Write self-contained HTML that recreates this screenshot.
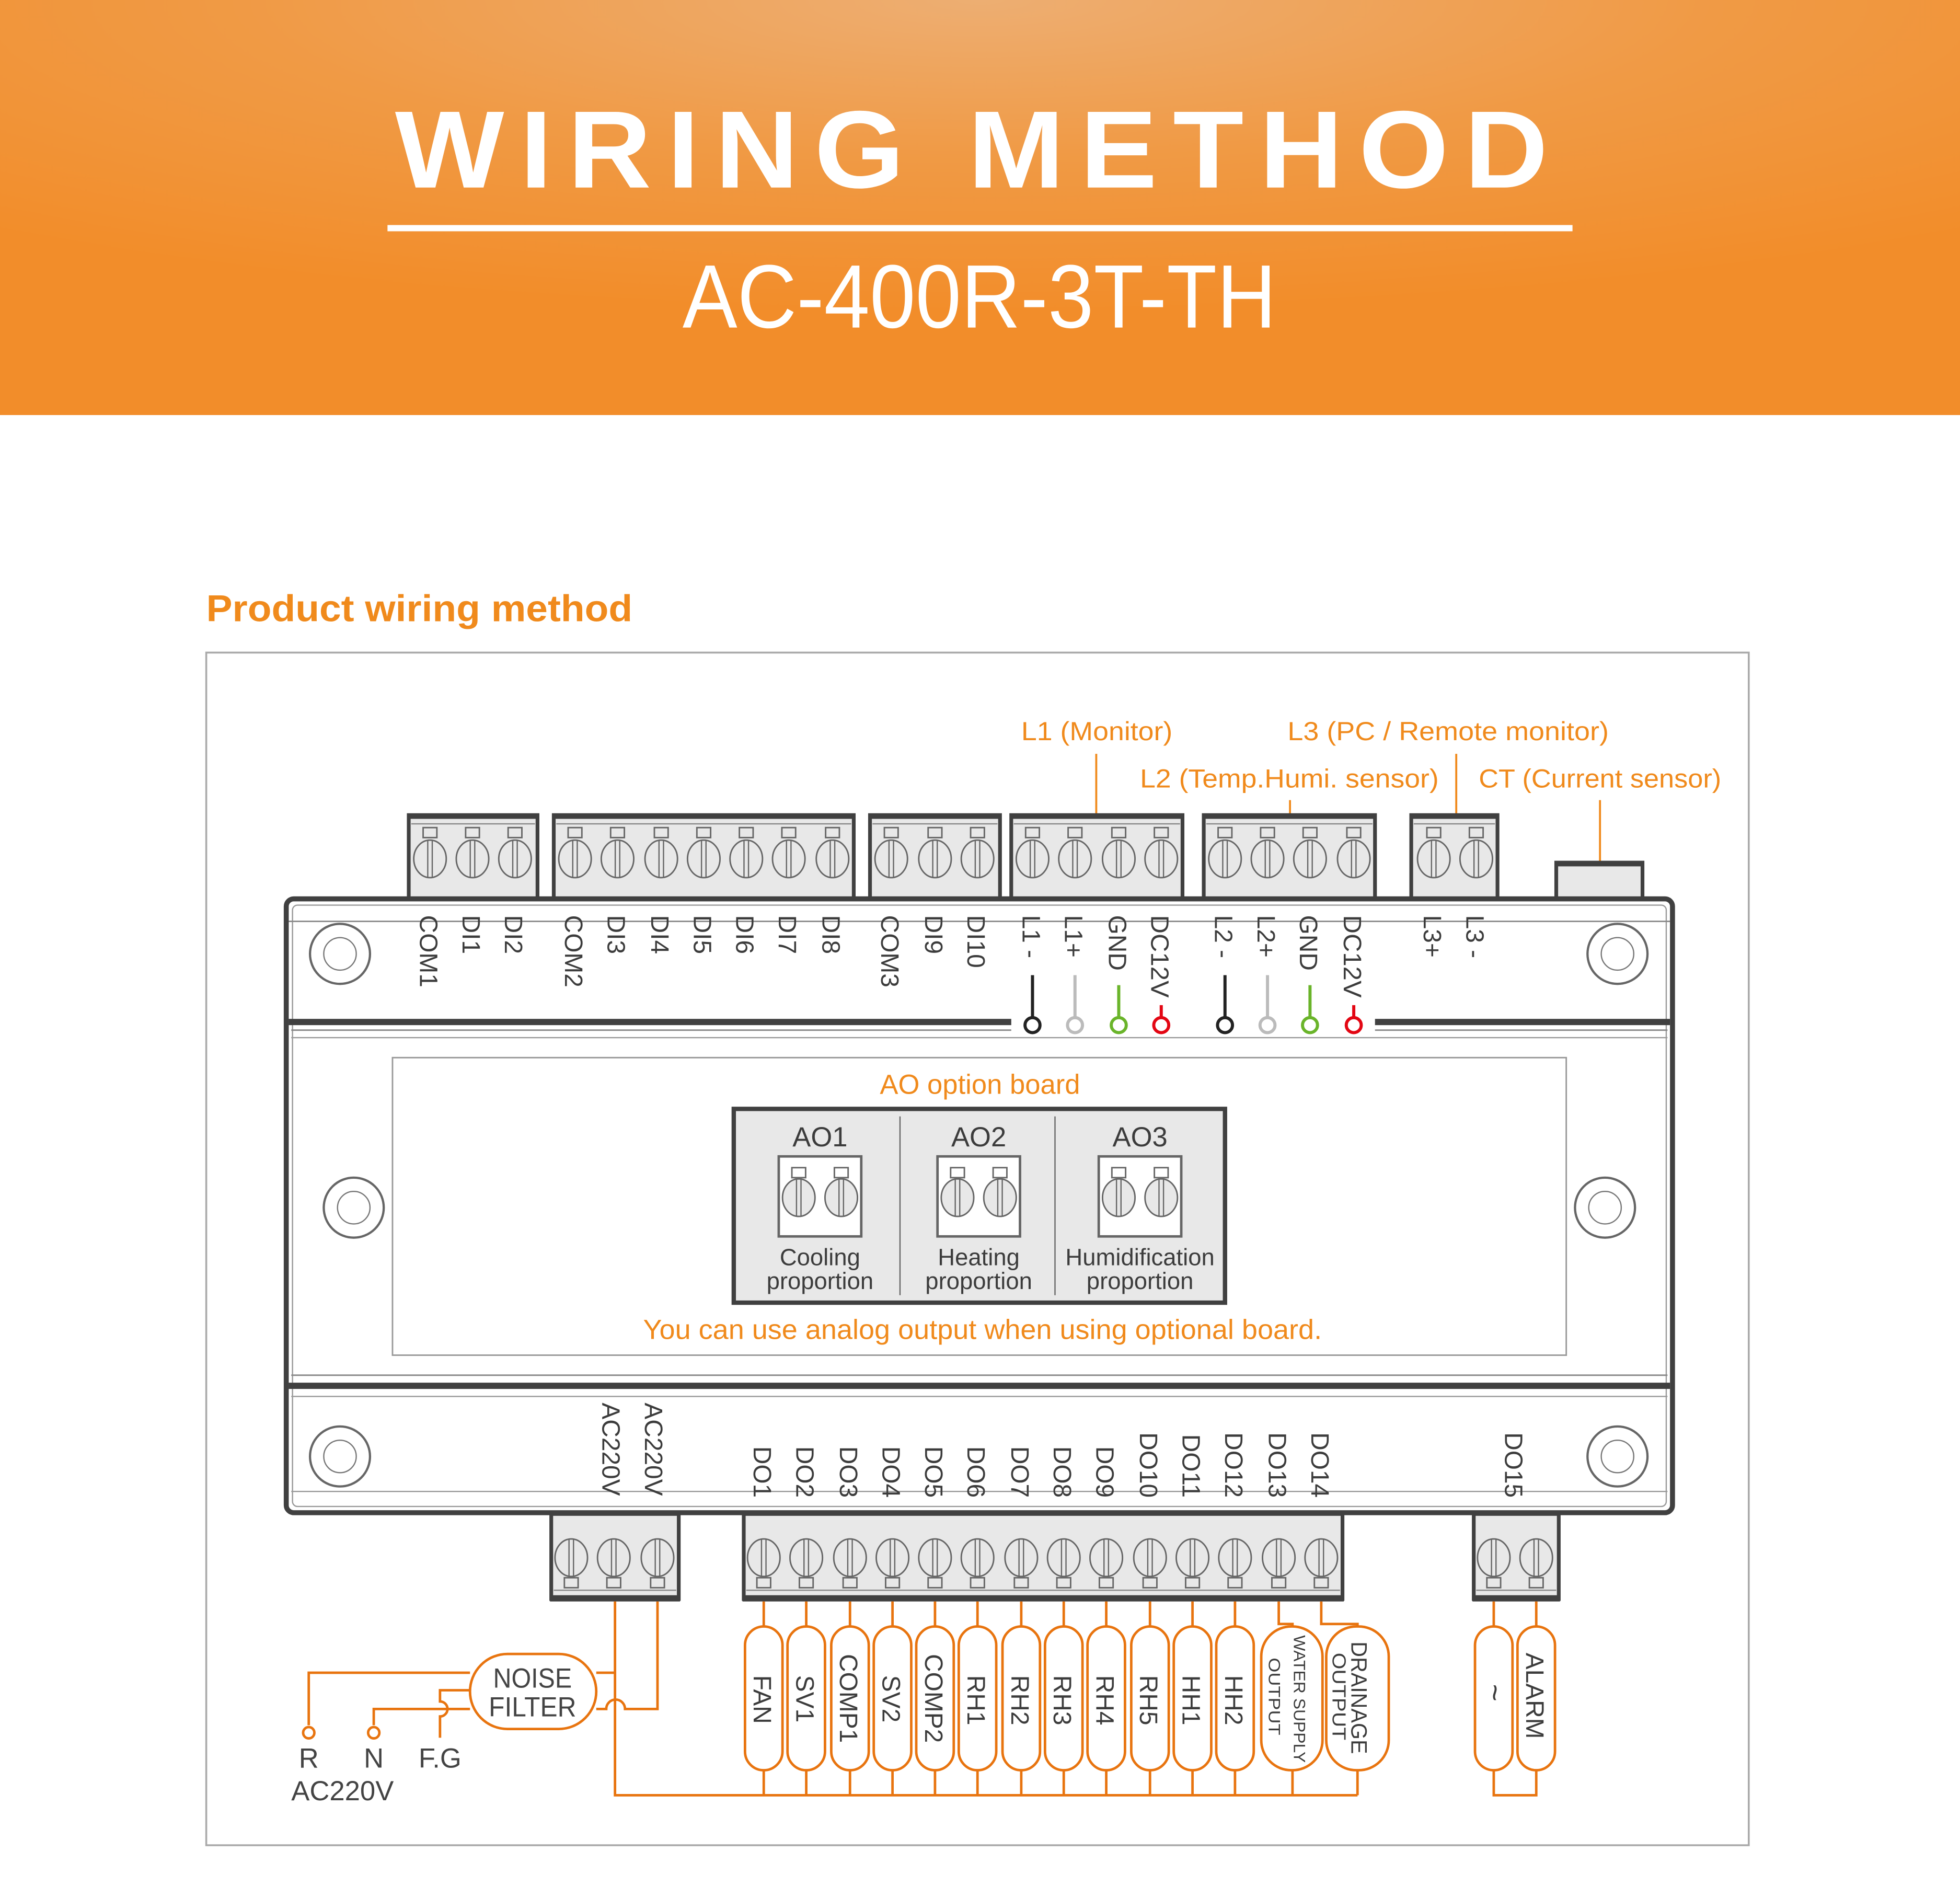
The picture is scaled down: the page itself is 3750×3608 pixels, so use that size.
<!DOCTYPE html>
<html><head><meta charset="utf-8"><style>
html,body{margin:0;padding:0;background:#fff}
svg{display:block}
.t{font-family:"Liberation Sans",sans-serif}
.o{fill:#f08a1c}
.d{fill:#3c3c3c}
.w{fill:none;stroke:#e8740f;stroke-width:2}
</style></head><body>
<svg width="3750" height="3608" viewBox="0 0 1568 1508.6" preserveAspectRatio="none" xmlns="http://www.w3.org/2000/svg">
<defs>
<radialGradient id="hg" cx="0.5" cy="0" r="0.75">
<stop offset="0" stop-color="#edae72"/><stop offset="0.5" stop-color="#f09a45"/><stop offset="1" stop-color="#f28d2a"/>
</radialGradient>
<g id="s"><ellipse cx="0" cy="0" rx="13" ry="15" fill="#e8e8e8" stroke="#666" stroke-width="1.2"/><line x1="-1.8" y1="-15" x2="-1.8" y2="15" stroke="#666" stroke-width="1"/><line x1="1.8" y1="-15" x2="1.8" y2="15" stroke="#666" stroke-width="1"/></g>
<g id="q"><rect x="-5.5" y="-4" width="11" height="8" fill="none" stroke="#666" stroke-width="1.2"/></g>
<g id="h"><circle cx="0" cy="0" r="24" fill="#fff" stroke="#666" stroke-width="1.8"/><circle cx="0" cy="0" r="13" fill="none" stroke="#777" stroke-width="1"/></g>
</defs>
<rect x="0" y="0" width="1568" height="332" fill="url(#hg)"/>
<text class="t" x="316" y="150" font-size="88" font-weight="bold" fill="#fff" textLength="935" lengthAdjust="spacingAndGlyphs" letter-spacing="12">WIRING METHOD</text>
<rect x="310" y="180" width="948" height="5" fill="#fff"/>
<text class="t" x="546" y="262" font-size="72" fill="#fff" textLength="475" lengthAdjust="spacingAndGlyphs">AC-400R-3T-TH</text>

<text class="t o" x="165" y="497" font-size="30" font-weight="bold" textLength="341" lengthAdjust="spacingAndGlyphs">Product wiring method</text>
<rect x="165" y="522" width="1234" height="954" fill="none" stroke="#aaa" stroke-width="1.5"/>

<g class="t o" font-size="21">
<text x="817" y="592" textLength="121" lengthAdjust="spacingAndGlyphs">L1 (Monitor)</text>
<text x="1030" y="592" textLength="257" lengthAdjust="spacingAndGlyphs">L3 (PC / Remote monitor)</text>
<text x="912" y="630" textLength="239" lengthAdjust="spacingAndGlyphs">L2 (Temp.Humi. sensor)</text>
<text x="1183" y="630" textLength="194" lengthAdjust="spacingAndGlyphs">CT (Current sensor)</text>
</g>
<g stroke="#f08a1c" stroke-width="1.6">
<line x1="877" y1="603" x2="877" y2="652"/><line x1="1165" y1="603" x2="1165" y2="652"/>
<line x1="1032" y1="640" x2="1032" y2="652"/><line x1="1280" y1="640" x2="1280" y2="690"/>
</g>

<g fill="#e8e8e8" stroke="#404040" stroke-width="3">
<rect x="327" y="652" width="103" height="68"/>
<rect x="443" y="652" width="240" height="68"/>
<rect x="696" y="652" width="104" height="68"/>
<rect x="809" y="652" width="137" height="68"/>
<rect x="963" y="652" width="137" height="68"/>
<rect x="1129" y="652" width="69" height="68"/>
<rect x="1245" y="690" width="69" height="30"/>
</g>
<g fill="#404040">
<rect x="327" y="651" width="103" height="4"/><rect x="443" y="651" width="240" height="4"/><rect x="696" y="651" width="104" height="4"/>
<rect x="809" y="651" width="137" height="4"/><rect x="963" y="651" width="137" height="4"/><rect x="1129" y="651" width="69" height="4"/><rect x="1245" y="689" width="69" height="4"/>
</g>
<g stroke="#888" stroke-width="1">
<line x1="329" y1="659" x2="428" y2="659"/><line x1="445" y1="659" x2="681" y2="659"/><line x1="698" y1="659" x2="798" y2="659"/>
<line x1="811" y1="659" x2="944" y2="659"/><line x1="965" y1="659" x2="1098" y2="659"/><line x1="1131" y1="659" x2="1196" y2="659"/>
</g>
<g>
<use href="#q" x="344" y="666"/><use href="#q" x="378" y="666"/><use href="#q" x="412" y="666"/>
<use href="#q" x="460" y="666"/><use href="#q" x="494" y="666"/><use href="#q" x="529" y="666"/><use href="#q" x="563" y="666"/><use href="#q" x="597" y="666"/><use href="#q" x="631" y="666"/><use href="#q" x="666" y="666"/>
<use href="#q" x="713" y="666"/><use href="#q" x="748" y="666"/><use href="#q" x="782" y="666"/>
<use href="#q" x="826" y="666"/><use href="#q" x="860" y="666"/><use href="#q" x="895" y="666"/><use href="#q" x="929" y="666"/>
<use href="#q" x="980" y="666"/><use href="#q" x="1014" y="666"/><use href="#q" x="1048" y="666"/><use href="#q" x="1083" y="666"/>
<use href="#q" x="1147" y="666"/><use href="#q" x="1181" y="666"/>
<use href="#s" x="344" y="687"/><use href="#s" x="378" y="687"/><use href="#s" x="412" y="687"/>
<use href="#s" x="460" y="687"/><use href="#s" x="494" y="687"/><use href="#s" x="529" y="687"/><use href="#s" x="563" y="687"/><use href="#s" x="597" y="687"/><use href="#s" x="631" y="687"/><use href="#s" x="666" y="687"/>
<use href="#s" x="713" y="687"/><use href="#s" x="748" y="687"/><use href="#s" x="782" y="687"/>
<use href="#s" x="826" y="687"/><use href="#s" x="860" y="687"/><use href="#s" x="895" y="687"/><use href="#s" x="929" y="687"/>
<use href="#s" x="980" y="687"/><use href="#s" x="1014" y="687"/><use href="#s" x="1048" y="687"/><use href="#s" x="1083" y="687"/>
<use href="#s" x="1147" y="687"/><use href="#s" x="1181" y="687"/>
</g>

<rect x="229" y="719" width="1109" height="491" rx="6" fill="#fff" stroke="#404040" stroke-width="4"/>
<rect x="234" y="724" width="1099" height="481" rx="4" fill="none" stroke="#999" stroke-width="1"/>
<line x1="231" y1="737" x2="1336" y2="737" stroke="#888" stroke-width="1.2"/>
<rect x="231" y="815" width="578" height="5" fill="#404040"/>
<rect x="1100" y="815" width="236" height="5" fill="#404040"/>
<line x1="233" y1="824" x2="809" y2="824" stroke="#888" stroke-width="1.2"/>
<line x1="1100" y1="824" x2="1334" y2="824" stroke="#888" stroke-width="1.2"/>
<line x1="233" y1="830" x2="1334" y2="830" stroke="#999" stroke-width="1"/>
<rect x="231" y="1106" width="1105" height="5" fill="#404040"/>
<line x1="233" y1="1100" x2="1334" y2="1100" stroke="#888" stroke-width="1.2"/>
<line x1="233" y1="1117" x2="1334" y2="1117" stroke="#999" stroke-width="1"/>
<line x1="233" y1="1193" x2="1334" y2="1193" stroke="#999" stroke-width="1"/>

<use href="#h" x="272" y="763"/><use href="#h" x="1294" y="763"/>
<use href="#h" x="283" y="966"/><use href="#h" x="1284" y="966"/>
<use href="#h" x="272" y="1165"/><use href="#h" x="1294" y="1165"/>

<g class="t d" font-size="20">
<text transform="translate(336,732) rotate(90)">COM1</text>
<text transform="translate(370,732) rotate(90)">DI1</text>
<text transform="translate(404,732) rotate(90)">DI2</text>
<text transform="translate(452,732) rotate(90)">COM2</text>
<text transform="translate(486,732) rotate(90)">DI3</text>
<text transform="translate(521,732) rotate(90)">DI4</text>
<text transform="translate(555,732) rotate(90)">DI5</text>
<text transform="translate(589,732) rotate(90)">DI6</text>
<text transform="translate(623,732) rotate(90)">DI7</text>
<text transform="translate(658,732) rotate(90)">DI8</text>
<text transform="translate(705,732) rotate(90)">COM3</text>
<text transform="translate(740,732) rotate(90)">DI9</text>
<text transform="translate(774,732) rotate(90)">DI10</text>
<text transform="translate(818,732) rotate(90)">L1 -</text>
<text transform="translate(852,732) rotate(90)">L1+</text>
<text transform="translate(887,732) rotate(90)">GND</text>
<text transform="translate(921,732) rotate(90)" textLength="66" lengthAdjust="spacingAndGlyphs">DC12V</text>
<text transform="translate(972,732) rotate(90)">L2 -</text>
<text transform="translate(1006,732) rotate(90)">L2+</text>
<text transform="translate(1040,732) rotate(90)">GND</text>
<text transform="translate(1075,732) rotate(90)" textLength="66" lengthAdjust="spacingAndGlyphs">DC12V</text>
<text transform="translate(1139,732) rotate(90)">L3+</text>
<text transform="translate(1173,732) rotate(90)">L3 -</text>
</g>
<g stroke-width="2.5" fill="#fff">
<line x1="826" y1="780" x2="826" y2="813" stroke="#222"/><circle cx="826" cy="820" r="6" stroke="#222"/>
<line x1="860" y1="780" x2="860" y2="813" stroke="#bbb"/><circle cx="860" cy="820" r="6" stroke="#bbb"/>
<line x1="895" y1="788" x2="895" y2="813" stroke="#6ab42a"/><circle cx="895" cy="820" r="6" stroke="#6ab42a"/>
<line x1="929" y1="804" x2="929" y2="813" stroke="#e30613"/><circle cx="929" cy="820" r="6" stroke="#e30613"/>
<line x1="980" y1="780" x2="980" y2="813" stroke="#222"/><circle cx="980" cy="820" r="6" stroke="#222"/>
<line x1="1014" y1="780" x2="1014" y2="813" stroke="#bbb"/><circle cx="1014" cy="820" r="6" stroke="#bbb"/>
<line x1="1048" y1="788" x2="1048" y2="813" stroke="#6ab42a"/><circle cx="1048" cy="820" r="6" stroke="#6ab42a"/>
<line x1="1083" y1="804" x2="1083" y2="813" stroke="#e30613"/><circle cx="1083" cy="820" r="6" stroke="#e30613"/>
</g>

<rect x="314" y="846" width="939" height="238" fill="none" stroke="#999" stroke-width="1.2"/>
<text class="t o" x="784" y="875" font-size="22" text-anchor="middle">AO option board</text>
<rect x="587" y="887" width="393" height="155" fill="#e8e8e8" stroke="#404040" stroke-width="3.5"/>
<line x1="720" y1="893" x2="720" y2="1036" stroke="#666" stroke-width="1"/>
<line x1="844" y1="893" x2="844" y2="1036" stroke="#666" stroke-width="1"/>
<g class="t d" font-size="22" text-anchor="middle">
<text x="656" y="917">AO1</text><text x="783" y="917">AO2</text><text x="912" y="917">AO3</text>
</g>
<g fill="#fff" stroke="#666" stroke-width="2">
<rect x="623" y="925" width="66" height="64"/><rect x="750" y="925" width="66" height="64"/><rect x="879" y="925" width="66" height="64"/>
</g>
<g>
<use href="#q" x="639" y="938"/><use href="#q" x="673" y="938"/><use href="#q" x="766" y="938"/><use href="#q" x="800" y="938"/><use href="#q" x="895" y="938"/><use href="#q" x="929" y="938"/>
<use href="#s" x="639" y="958"/><use href="#s" x="673" y="958"/><use href="#s" x="766" y="958"/><use href="#s" x="800" y="958"/><use href="#s" x="895" y="958"/><use href="#s" x="929" y="958"/>
</g>
<g class="t d" font-size="19" text-anchor="middle" fill="#444">
<text x="656" y="1012">Cooling</text><text x="656" y="1031">proportion</text>
<text x="783" y="1012">Heating</text><text x="783" y="1031">proportion</text>
<text x="912" y="1012">Humidification</text><text x="912" y="1031">proportion</text>
</g>
<text class="t o" x="786" y="1071" font-size="22" text-anchor="middle" textLength="543" lengthAdjust="spacingAndGlyphs">You can use analog output when using optional board.</text>

<g class="t d" font-size="20">
<text transform="translate(482,1122) rotate(90)">AC220V</text>
<text transform="translate(516,1122) rotate(90)">AC220V</text>
</g>
<g class="t d" font-size="20" text-anchor="end">
<text transform="translate(603,1198) rotate(90)">DO1</text>
<text transform="translate(637,1198) rotate(90)">DO2</text>
<text transform="translate(672,1198) rotate(90)">DO3</text>
<text transform="translate(706,1198) rotate(90)">DO4</text>
<text transform="translate(740,1198) rotate(90)">DO5</text>
<text transform="translate(774,1198) rotate(90)">DO6</text>
<text transform="translate(809,1198) rotate(90)">DO7</text>
<text transform="translate(843,1198) rotate(90)">DO8</text>
<text transform="translate(877,1198) rotate(90)">DO9</text>
<text transform="translate(912,1198) rotate(90)">DO10</text>
<text transform="translate(946,1198) rotate(90)">DO11</text>
<text transform="translate(980,1198) rotate(90)">DO12</text>
<text transform="translate(1015,1198) rotate(90)">DO13</text>
<text transform="translate(1049,1198) rotate(90)">DO14</text>
<text transform="translate(1204,1198) rotate(90)">DO15</text>
</g>

<g fill="#e8e8e8" stroke="#404040" stroke-width="3">
<rect x="441" y="1211" width="102" height="68"/>
<rect x="595" y="1211" width="479" height="68"/>
<rect x="1179" y="1211" width="68" height="68"/>
</g>
<g fill="#404040">
<rect x="440" y="1276" width="104" height="5"/><rect x="594" y="1276" width="481" height="5"/><rect x="1178" y="1276" width="70" height="5"/>
</g>
<g stroke="#888" stroke-width="1">
<line x1="443" y1="1272" x2="541" y2="1272"/><line x1="597" y1="1272" x2="1072" y2="1272"/><line x1="1181" y1="1272" x2="1245" y2="1272"/>
</g>
<g>
<use href="#s" x="457" y="1246"/><use href="#s" x="491" y="1246"/><use href="#s" x="526" y="1246"/>
<use href="#q" x="457" y="1266"/><use href="#q" x="491" y="1266"/><use href="#q" x="526" y="1266"/>
<use href="#s" x="611" y="1246"/><use href="#s" x="645" y="1246"/><use href="#s" x="680" y="1246"/><use href="#s" x="714" y="1246"/><use href="#s" x="748" y="1246"/><use href="#s" x="782" y="1246"/><use href="#s" x="817" y="1246"/><use href="#s" x="851" y="1246"/><use href="#s" x="885" y="1246"/><use href="#s" x="920" y="1246"/><use href="#s" x="954" y="1246"/><use href="#s" x="988" y="1246"/><use href="#s" x="1023" y="1246"/><use href="#s" x="1057" y="1246"/>
<use href="#q" x="611" y="1266"/><use href="#q" x="645" y="1266"/><use href="#q" x="680" y="1266"/><use href="#q" x="714" y="1266"/><use href="#q" x="748" y="1266"/><use href="#q" x="782" y="1266"/><use href="#q" x="817" y="1266"/><use href="#q" x="851" y="1266"/><use href="#q" x="885" y="1266"/><use href="#q" x="920" y="1266"/><use href="#q" x="954" y="1266"/><use href="#q" x="988" y="1266"/><use href="#q" x="1023" y="1266"/><use href="#q" x="1057" y="1266"/>
<use href="#s" x="1195" y="1246"/><use href="#s" x="1229" y="1246"/>
<use href="#q" x="1195" y="1266"/><use href="#q" x="1229" y="1266"/>
</g>

<g class="w">
<path d="M611 1281V1436 M645 1281V1436 M680 1281V1436 M714 1281V1436 M748 1281V1436 M782 1281V1436 M817 1281V1436 M851 1281V1436 M885 1281V1436 M920 1281V1436 M954 1281V1436 M988 1281V1436"/>
<path d="M1023 1281V1299H1034V1436 M1057 1281V1299H1086V1436"/>
<path d="M492 1281V1436H1086"/>
<path d="M1195 1281V1436H1229V1281"/>
<path d="M526 1281V1367H500 A5 5 0 0 0 485 1367 H477"/>
<path d="M477 1338H492"/>
<path d="M376 1338H247V1380 M376 1367H299V1380"/>
<path d="M376 1352H352V1361 A6 6 0 0 1 352 1373 V1390"/>
</g>
<g fill="#fff" stroke="#e8740f" stroke-width="2">
<rect x="596" y="1301" width="30" height="115" rx="15"/>
<rect x="630" y="1301" width="30" height="115" rx="15"/>
<rect x="665" y="1301" width="30" height="115" rx="15"/>
<rect x="699" y="1301" width="30" height="115" rx="15"/>
<rect x="733" y="1301" width="30" height="115" rx="15"/>
<rect x="767" y="1301" width="30" height="115" rx="15"/>
<rect x="802" y="1301" width="30" height="115" rx="15"/>
<rect x="836" y="1301" width="30" height="115" rx="15"/>
<rect x="870" y="1301" width="30" height="115" rx="15"/>
<rect x="905" y="1301" width="30" height="115" rx="15"/>
<rect x="939" y="1301" width="30" height="115" rx="15"/>
<rect x="973" y="1301" width="30" height="115" rx="15"/>
<rect x="1009" y="1301" width="49" height="115" rx="24"/>
<rect x="1061" y="1301" width="50" height="115" rx="24"/>
<rect x="1180" y="1301" width="30" height="115" rx="15"/>
<rect x="1214" y="1301" width="30" height="115" rx="15"/>
<rect x="376" y="1323" width="101" height="60" rx="30"/>
<circle cx="247" cy="1386" r="4.5"/><circle cx="299" cy="1386" r="4.5"/>
</g>
<g class="t d" font-size="20" fill="#444">
<text transform="translate(603,1340) rotate(90)">FAN</text>
<text transform="translate(637,1340) rotate(90)">SV1</text>
<text transform="translate(672,1323) rotate(90)">COMP1</text>
<text transform="translate(706,1340) rotate(90)">SV2</text>
<text transform="translate(740,1323) rotate(90)">COMP2</text>
<text transform="translate(774,1340) rotate(90)">RH1</text>
<text transform="translate(809,1340) rotate(90)">RH2</text>
<text transform="translate(843,1340) rotate(90)">RH3</text>
<text transform="translate(877,1340) rotate(90)">RH4</text>
<text transform="translate(912,1340) rotate(90)">RH5</text>
<text transform="translate(946,1340) rotate(90)">HH1</text>
<text transform="translate(980,1340) rotate(90)">HH2</text>
<text transform="translate(1221,1322) rotate(90)">ALARM</text>
<text transform="translate(1188,1347) rotate(90)" font-size="24">~</text>
<text transform="translate(1081,1313) rotate(90)" font-size="18" textLength="90" lengthAdjust="spacingAndGlyphs">DRAINAGE</text>
<text transform="translate(1066,1322) rotate(90)" font-size="15" textLength="70" lengthAdjust="spacingAndGlyphs">OUTPUT</text>
<text transform="translate(1035,1308) rotate(90)" font-size="13" textLength="102" lengthAdjust="spacingAndGlyphs">WATER SUPPLY</text>
<text transform="translate(1015,1326) rotate(90)" font-size="13" textLength="62" lengthAdjust="spacingAndGlyphs">OUTPUT</text>
</g>
<g class="t" font-size="22" fill="#444">
<text x="426" y="1350" text-anchor="middle" textLength="63" lengthAdjust="spacingAndGlyphs">NOISE</text>
<text x="426" y="1373" text-anchor="middle" textLength="70" lengthAdjust="spacingAndGlyphs">FILTER</text>
<text x="247" y="1414" text-anchor="middle">R</text>
<text x="299" y="1414" text-anchor="middle">N</text>
<text x="352" y="1414" text-anchor="middle">F.G</text>
<text x="233" y="1440" textLength="82" lengthAdjust="spacingAndGlyphs">AC220V</text>
</g>
</svg>
</body></html>
